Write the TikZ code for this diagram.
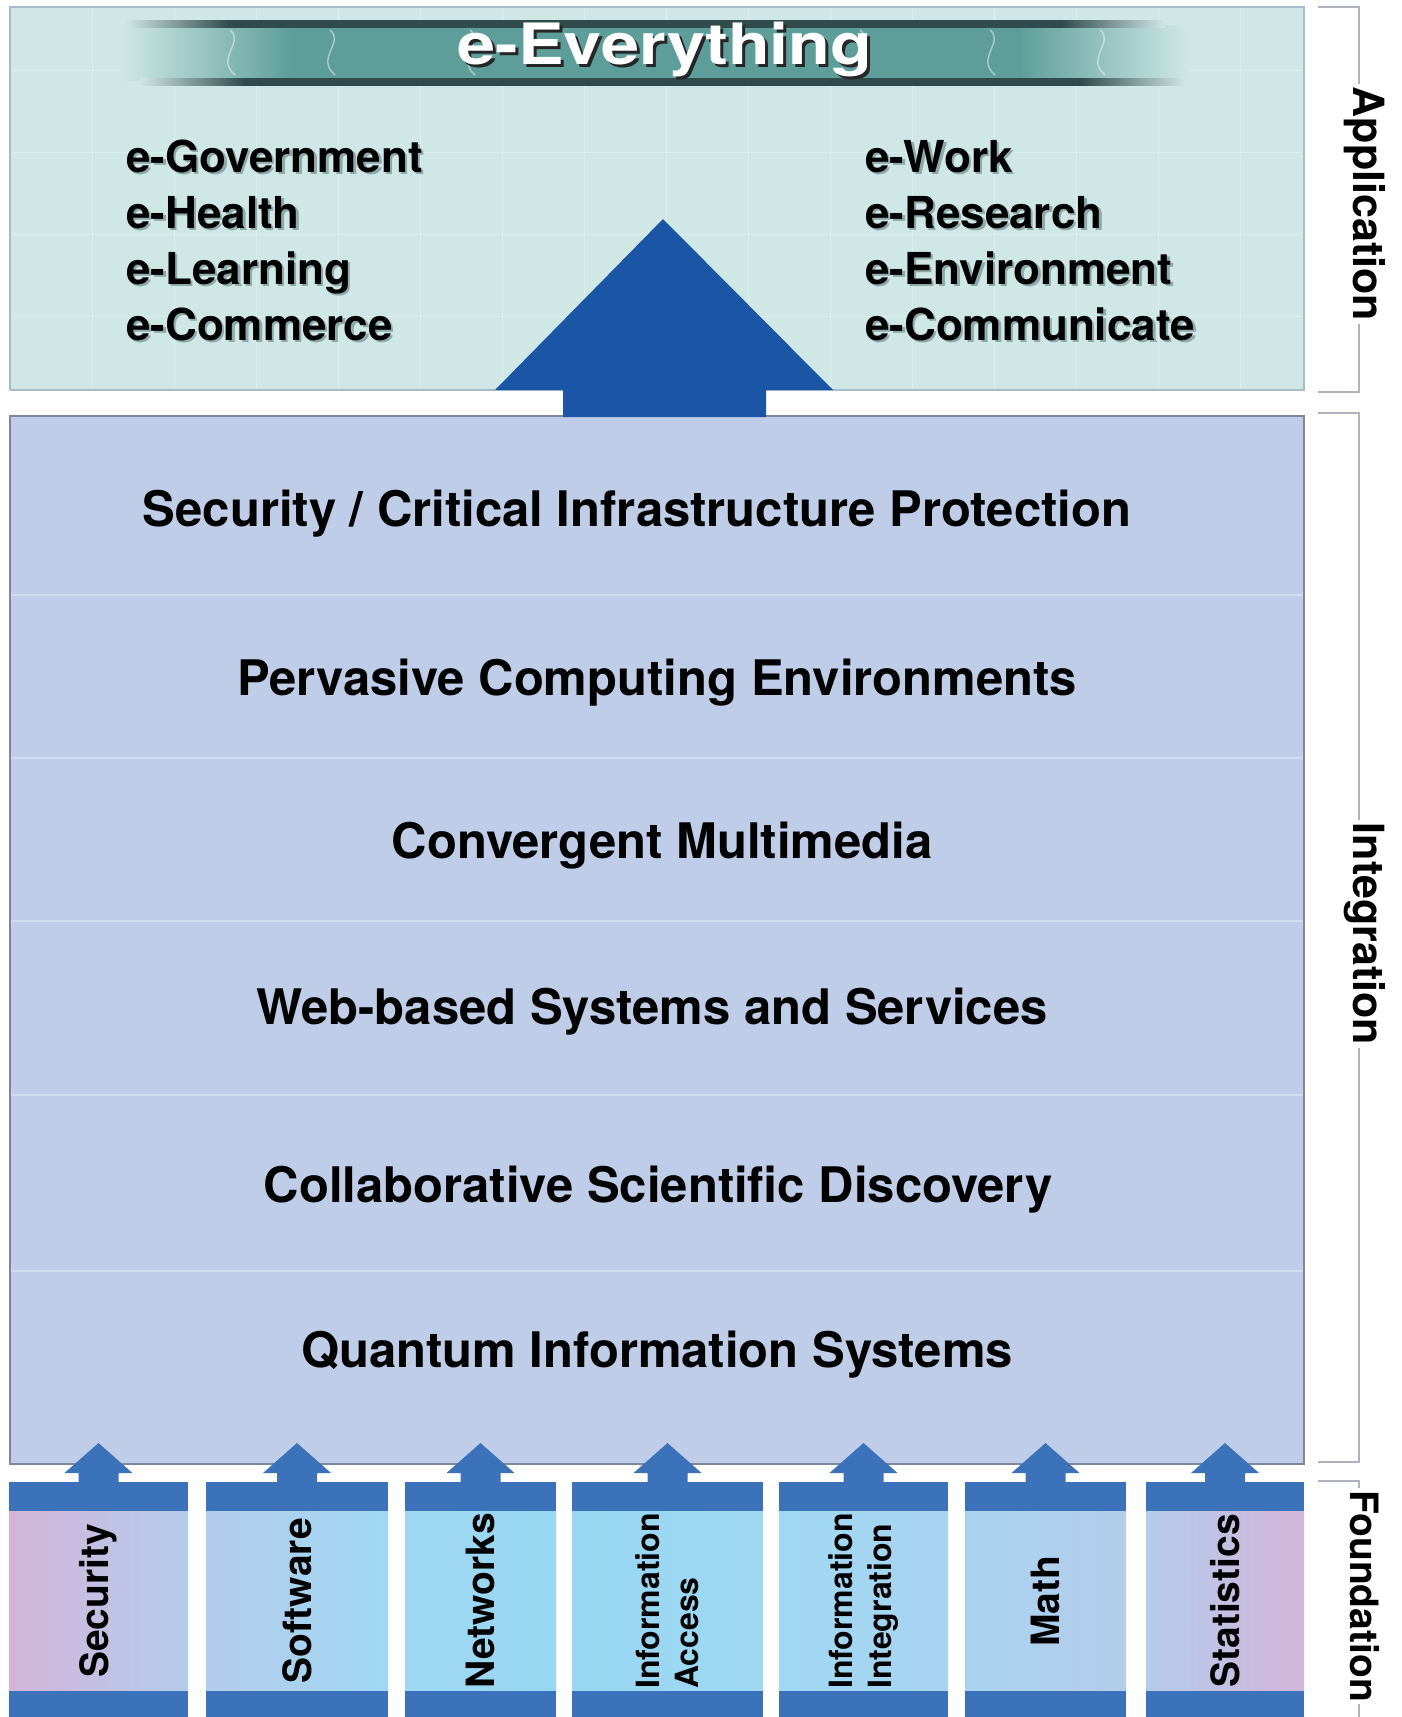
\documentclass[tikz,border=0pt]{standalone}
\usepackage{fontspec}
\setmainfont{TeX Gyre Heros}
\usetikzlibrary{calc}
\definecolor{appbg}{HTML}{CFE8E6}
\definecolor{appborder}{HTML}{A9BCCB}
\definecolor{intbg}{HTML}{BFCDE9}
\definecolor{intborder}{HTML}{7F879C}
\definecolor{sepline}{HTML}{D2DCF0}
\definecolor{bigarrow}{HTML}{1B55A5}
\definecolor{barblue}{HTML}{3B72BA}
\definecolor{bracketgray}{HTML}{B0B2C0}
\definecolor{bannerteal}{HTML}{5E9E9A}
\definecolor{bannerdark}{HTML}{2F4B4B}
\definecolor{pinkish}{HTML}{D3B5DA}
\definecolor{lblue}{HTML}{B4CCEB}
\definecolor{sky}{HTML}{A0D8F3}
\definecolor{skyb}{HTML}{98D7F1}
\definecolor{skyc}{HTML}{A8D4F0}
\definecolor{textshadow}{HTML}{8FA8A8}
\pgfdeclarehorizontalshading{bannershade}{100bp}{color(0bp)=(appbg); color(25bp)=(appbg); color(33bp)=(bannerteal); color(67bp)=(bannerteal); color(75bp)=(appbg); color(100bp)=(appbg)}
\pgfdeclarehorizontalshading{bannerline}{100bp}{color(0bp)=(appbg); color(25bp)=(appbg); color(30bp)=(bannerdark); color(70bp)=(bannerdark); color(75bp)=(appbg); color(100bp)=(appbg)}
\tikzset{
  layertext/.style={font=\bfseries\fontsize{49}{56}\selectfont, anchor=base, inner sep=0pt},
  apptext/.style={font=\bfseries\fontsize{44}{50}\selectfont, anchor=base west, inner sep=0pt},
  appshadow/.style={apptext, text=textshadow},
  coltext/.style={font=\bfseries\fontsize{39}{44}\selectfont, rotate=90, inner sep=0pt},
  coltwo/.style={font=\bfseries\fontsize{32}{39}\selectfont, rotate=90, align=left, inner sep=0pt},
  sidetext/.style={font=\bfseries\fontsize{43}{48}\selectfont, rotate=-90, fill=white, inner sep=3pt},
  evtext/.style={font=\bfseries\fontsize{57}{62}\selectfont, inner sep=0pt},
  bracketline/.style={draw=bracketgray, line width=2pt},
  barfill/.style={fill=barblue},
}
\begin{document}
\begin{tikzpicture}[x=1pt,y=-1pt]
\useasboundingbox[fill=white] (0,0) rectangle (1401,1717);

% ---------- Application box ----------
\draw[fill=appbg, draw=appborder, line width=2pt] (10,7) rectangle (1304,390);
\foreach \gx in {92,174,256,338,420,502,584,666,748,830,912,994,1076,1158,1240}
  \draw[white, opacity=0.25, line width=1pt] (\gx,9) -- (\gx,388);
\foreach \gy in {70,152,234,316}
  \draw[white, opacity=0.25, line width=1pt] (12,\gy) -- (1302,\gy);

% banner
\shade[shading=bannershade] (120,25) rectangle (1190,80);
\shade[shading=bannerline] (125,20) rectangle (1165,27);
\shade[shading=bannerline] (140,78) rectangle (1185,85);
\foreach \wx in {230,330,470,860,990,1100}
  \draw[white, opacity=0.45, line width=1.5pt] (\wx,30) .. controls (\wx+15,42) and (\wx-15,58) .. (\wx+5,75);

\node[evtext, text=black!85] (evshadow) at (668,53) {\scalebox{1.2}[1]{e-Everything}};
\node[evtext, text=white] (ev) at (665,50) {\scalebox{1.2}[1]{e-Everything}};

% application list
\foreach \t/\yy [count=\i] in {e-Government/172,e-Health/228,e-Learning/284,e-Commerce/340}{
  \node[appshadow] at (128.5,\yy+2.5) {\t};
  \node[apptext] (appL\i) at (126,\yy) {\t};
}
\foreach \t/\yy [count=\i] in {e-Work/172,e-Research/228,e-Environment/284,e-Communicate/340}{
  \node[appshadow] at (867.5,\yy+2.5) {\t};
  \node[apptext] (appR\i) at (865,\yy) {\t};
}

% ---------- Integration box ----------
\draw[fill=intbg, draw=intborder, line width=2pt] (10,416) rectangle (1304,1464);
\foreach \sy in {595,758,921,1095,1271}
  \draw[sepline, line width=1.5pt] (11,\sy) -- (1303,\sy);

\node[layertext] (l1) at (637,526) {Security / Critical Infrastructure Protection};
\node[layertext] (l2) at (657,695) {Pervasive Computing Environments};
\node[layertext] (l3) at (662,858) {Convergent Multimedia};
\node[layertext] (l4) at (652,1024) {Web-based Systems and Services};
\node[layertext] (l5) at (658,1202) {Collaborative Scientific Discovery};
\node[layertext] (l6) at (657,1367) {Quantum Information Systems};

% big arrow
\fill[bigarrow] (563,417) -- (563,390) -- (495,390) -- (663,219) -- (833,390) -- (766,390) -- (766,417) -- cycle;

% ---------- Foundation columns ----------
\shade[left color=pinkish, right color=lblue] (9,1511) rectangle (188,1691);
\shade[left color=lblue, right color=sky] (206,1511) rectangle (388,1691);
\shade[left color=sky, right color=skyb] (405,1511) rectangle (556,1691);
\shade[left color=skyb, right color=sky] (572,1511) rectangle (763,1691);
\shade[left color=sky, right color=skyc] (779,1511) rectangle (948,1691);
\shade[left color=skyc, right color=lblue] (965,1511) rectangle (1126,1691);
\shade[left color=lblue, right color=pinkish] (1146,1511) rectangle (1304,1691);

\foreach \xa/\xb in {9/188,206/388,405/556,572/763,779/948,965/1126,1146/1304}{
  \fill[barfill] (\xa,1482) rectangle (\xb,1511);
  \fill[barfill] (\xa,1691) rectangle (\xb,1717);
  \pgfmathsetmacro{\cx}{(\xa+\xb)/2}
  \fill[barfill] (\cx-20,1483) -- (\cx-20,1473) -- (\cx-34,1473) -- (\cx,1443) -- (\cx+34,1473) -- (\cx+20,1473) -- (\cx+20,1483) -- cycle;
}

\node[coltext] (c1) at (98.5,1601) {Security};
\node[coltext] (c2) at (297,1601) {Software};
\node[coltext] (c3) at (480.5,1601) {Networks};
\node[coltwo] (c4) at (667.5,1601) {Information\\Access};
\node[coltwo] (c5) at (863.5,1601) {Information\\Integration};
\node[coltext] (c6) at (1045.5,1601) {Math};
\node[coltext] (c7) at (1225,1601) {Statistics};

% ---------- Side brackets ----------
\draw[bracketline] (1318,7) -- (1359,7) -- (1359,392) -- (1318,392);
\draw[bracketline] (1318,413) -- (1359,413) -- (1359,1462) -- (1318,1462);
\draw[bracketline] (1318,1481) -- (1359,1481) -- (1359,1717);
\node[sidetext] (sa) at (1365,204) {Application};
\node[sidetext] (si) at (1365,934) {Integration};
\node[sidetext, font=\bfseries\fontsize{39}{44}\selectfont, inner sep=2pt, anchor=west] (sf) at (1365,1488) {Foundation};
\end{tikzpicture}
\end{document}
